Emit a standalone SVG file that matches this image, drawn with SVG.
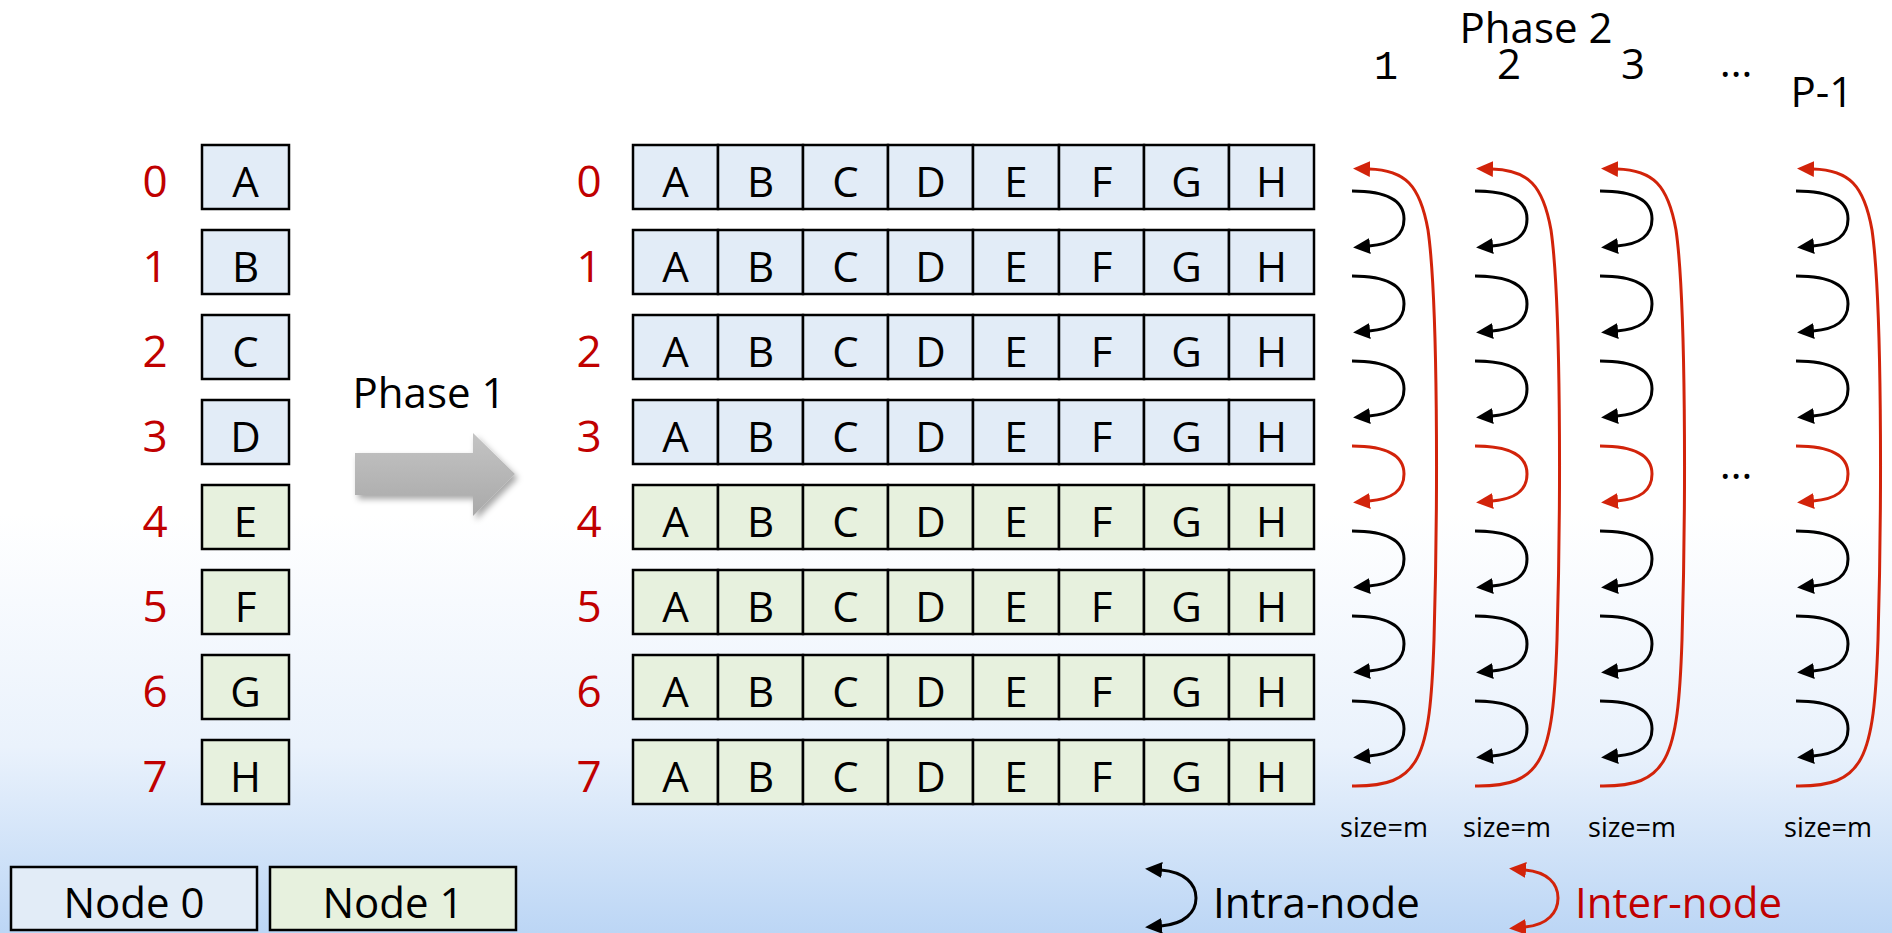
<svg xmlns="http://www.w3.org/2000/svg" width="1892" height="933" viewBox="0 0 1892 933">
<defs>
<linearGradient id="bg" x1="0" y1="0" x2="0" y2="1">
<stop offset="0" stop-color="#ffffff"/>
<stop offset="0.55" stop-color="#ffffff"/>
<stop offset="0.8" stop-color="#eaf2fc"/>
<stop offset="1" stop-color="#bcd6f5"/>
</linearGradient>
<linearGradient id="ga" x1="0" y1="0" x2="0" y2="1">
<stop offset="0" stop-color="#c4c4c4"/>
<stop offset="1" stop-color="#a9a9a9"/>
</linearGradient>
<filter id="sh" x="-20%" y="-30%" width="150%" height="170%">
<feDropShadow dx="3" dy="4" stdDeviation="3" flood-color="#000" flood-opacity="0.35"/>
</filter>
<marker id="ab" markerUnits="userSpaceOnUse" markerWidth="18" markerHeight="18" viewBox="0 -9 18 18" refX="1" refY="0" orient="auto-start-reverse">
<path d="M0,-8 L17,0 L0,8 z" fill="#000"/>
</marker>
<marker id="ar" markerUnits="userSpaceOnUse" markerWidth="18" markerHeight="18" viewBox="0 -9 18 18" refX="1" refY="0" orient="auto-start-reverse">
<path d="M0,-8 L17,0 L0,8 z" fill="#d2230a"/>
</marker>
</defs>
<style>
text{font-family:"Open Sans","Liberation Sans",sans-serif;fill:#000}
.t{font-size:42px;text-anchor:middle}
.n{font-size:44px;text-anchor:middle;fill:#c00000}
.s{font-size:27px;text-anchor:middle}
.bl{fill:#e2ecf7;stroke:#000;stroke-width:2.5}
.gr{fill:#e7f1de;stroke:#000;stroke-width:2.5}
.cb{fill:none;stroke:#000;stroke-width:3;marker-end:url(#ab)}
.cr{fill:none;stroke:#d2230a;stroke-width:3;marker-end:url(#ar)}
</style>
<rect x="0" y="0" width="1892" height="933" fill="url(#bg)"/>

<g id="left-ranks">
<text class="n" x="155" y="197">0</text>
<text class="n" x="155" y="282">1</text>
<text class="n" x="155" y="367">2</text>
<text class="n" x="155" y="452">3</text>
<text class="n" x="155" y="537">4</text>
<text class="n" x="155" y="622">5</text>
<text class="n" x="155" y="707">6</text>
<text class="n" x="155" y="792">7</text>
</g>
<g id="left-A"><rect class="bl" x="202" y="145" width="87" height="64"/><text class="t" x="245.5" y="197">A</text></g>
<g id="left-B"><rect class="bl" x="202" y="230" width="87" height="64"/><text class="t" x="245.5" y="282">B</text></g>
<g id="left-C"><rect class="bl" x="202" y="315" width="87" height="64"/><text class="t" x="245.5" y="367">C</text></g>
<g id="left-D"><rect class="bl" x="202" y="400" width="87" height="64"/><text class="t" x="245.5" y="452">D</text></g>
<g id="left-E"><rect class="gr" x="202" y="485" width="87" height="64"/><text class="t" x="245.5" y="537">E</text></g>
<g id="left-F"><rect class="gr" x="202" y="570" width="87" height="64"/><text class="t" x="245.5" y="622">F</text></g>
<g id="left-G"><rect class="gr" x="202" y="655" width="87" height="64"/><text class="t" x="245.5" y="707">G</text></g>
<g id="left-H"><rect class="gr" x="202" y="740" width="87" height="64"/><text class="t" x="245.5" y="792">H</text></g>

<g id="phase1">
<text x="429" y="408" style="font-size:42px;text-anchor:middle">Phase 1</text>
<polygon points="355,453 473,453 473,433 515,474 473,516 473,495 355,495" fill="url(#ga)" filter="url(#sh)"/>
</g>

<g id="grid-ranks">
<text class="n" x="589" y="197">0</text>
<text class="n" x="589" y="282">1</text>
<text class="n" x="589" y="367">2</text>
<text class="n" x="589" y="452">3</text>
<text class="n" x="589" y="537">4</text>
<text class="n" x="589" y="622">5</text>
<text class="n" x="589" y="707">6</text>
<text class="n" x="589" y="792">7</text>
</g>

<g id="row0">
<rect class="bl" x="633" y="145" width="85" height="64"/><rect class="bl" x="718" y="145" width="85" height="64"/><rect class="bl" x="803" y="145" width="85" height="64"/><rect class="bl" x="888" y="145" width="85" height="64"/><rect class="bl" x="973" y="145" width="86" height="64"/><rect class="bl" x="1059" y="145" width="85" height="64"/><rect class="bl" x="1144" y="145" width="85" height="64"/><rect class="bl" x="1229" y="145" width="85" height="64"/>
<text class="t" x="675.5" y="197">A</text><text class="t" x="760.5" y="197">B</text><text class="t" x="845.5" y="197">C</text><text class="t" x="930.5" y="197">D</text><text class="t" x="1016" y="197">E</text><text class="t" x="1101.5" y="197">F</text><text class="t" x="1186.5" y="197">G</text><text class="t" x="1271.5" y="197">H</text>
</g>
<g id="row1">
<rect class="bl" x="633" y="230" width="85" height="64"/><rect class="bl" x="718" y="230" width="85" height="64"/><rect class="bl" x="803" y="230" width="85" height="64"/><rect class="bl" x="888" y="230" width="85" height="64"/><rect class="bl" x="973" y="230" width="86" height="64"/><rect class="bl" x="1059" y="230" width="85" height="64"/><rect class="bl" x="1144" y="230" width="85" height="64"/><rect class="bl" x="1229" y="230" width="85" height="64"/>
<text class="t" x="675.5" y="282">A</text><text class="t" x="760.5" y="282">B</text><text class="t" x="845.5" y="282">C</text><text class="t" x="930.5" y="282">D</text><text class="t" x="1016" y="282">E</text><text class="t" x="1101.5" y="282">F</text><text class="t" x="1186.5" y="282">G</text><text class="t" x="1271.5" y="282">H</text>
</g>
<g id="row2">
<rect class="bl" x="633" y="315" width="85" height="64"/><rect class="bl" x="718" y="315" width="85" height="64"/><rect class="bl" x="803" y="315" width="85" height="64"/><rect class="bl" x="888" y="315" width="85" height="64"/><rect class="bl" x="973" y="315" width="86" height="64"/><rect class="bl" x="1059" y="315" width="85" height="64"/><rect class="bl" x="1144" y="315" width="85" height="64"/><rect class="bl" x="1229" y="315" width="85" height="64"/>
<text class="t" x="675.5" y="367">A</text><text class="t" x="760.5" y="367">B</text><text class="t" x="845.5" y="367">C</text><text class="t" x="930.5" y="367">D</text><text class="t" x="1016" y="367">E</text><text class="t" x="1101.5" y="367">F</text><text class="t" x="1186.5" y="367">G</text><text class="t" x="1271.5" y="367">H</text>
</g>
<g id="row3">
<rect class="bl" x="633" y="400" width="85" height="64"/><rect class="bl" x="718" y="400" width="85" height="64"/><rect class="bl" x="803" y="400" width="85" height="64"/><rect class="bl" x="888" y="400" width="85" height="64"/><rect class="bl" x="973" y="400" width="86" height="64"/><rect class="bl" x="1059" y="400" width="85" height="64"/><rect class="bl" x="1144" y="400" width="85" height="64"/><rect class="bl" x="1229" y="400" width="85" height="64"/>
<text class="t" x="675.5" y="452">A</text><text class="t" x="760.5" y="452">B</text><text class="t" x="845.5" y="452">C</text><text class="t" x="930.5" y="452">D</text><text class="t" x="1016" y="452">E</text><text class="t" x="1101.5" y="452">F</text><text class="t" x="1186.5" y="452">G</text><text class="t" x="1271.5" y="452">H</text>
</g>
<g id="row4">
<rect class="gr" x="633" y="485" width="85" height="64"/><rect class="gr" x="718" y="485" width="85" height="64"/><rect class="gr" x="803" y="485" width="85" height="64"/><rect class="gr" x="888" y="485" width="85" height="64"/><rect class="gr" x="973" y="485" width="86" height="64"/><rect class="gr" x="1059" y="485" width="85" height="64"/><rect class="gr" x="1144" y="485" width="85" height="64"/><rect class="gr" x="1229" y="485" width="85" height="64"/>
<text class="t" x="675.5" y="537">A</text><text class="t" x="760.5" y="537">B</text><text class="t" x="845.5" y="537">C</text><text class="t" x="930.5" y="537">D</text><text class="t" x="1016" y="537">E</text><text class="t" x="1101.5" y="537">F</text><text class="t" x="1186.5" y="537">G</text><text class="t" x="1271.5" y="537">H</text>
</g>
<g id="row5">
<rect class="gr" x="633" y="570" width="85" height="64"/><rect class="gr" x="718" y="570" width="85" height="64"/><rect class="gr" x="803" y="570" width="85" height="64"/><rect class="gr" x="888" y="570" width="85" height="64"/><rect class="gr" x="973" y="570" width="86" height="64"/><rect class="gr" x="1059" y="570" width="85" height="64"/><rect class="gr" x="1144" y="570" width="85" height="64"/><rect class="gr" x="1229" y="570" width="85" height="64"/>
<text class="t" x="675.5" y="622">A</text><text class="t" x="760.5" y="622">B</text><text class="t" x="845.5" y="622">C</text><text class="t" x="930.5" y="622">D</text><text class="t" x="1016" y="622">E</text><text class="t" x="1101.5" y="622">F</text><text class="t" x="1186.5" y="622">G</text><text class="t" x="1271.5" y="622">H</text>
</g>
<g id="row6">
<rect class="gr" x="633" y="655" width="85" height="64"/><rect class="gr" x="718" y="655" width="85" height="64"/><rect class="gr" x="803" y="655" width="85" height="64"/><rect class="gr" x="888" y="655" width="85" height="64"/><rect class="gr" x="973" y="655" width="86" height="64"/><rect class="gr" x="1059" y="655" width="85" height="64"/><rect class="gr" x="1144" y="655" width="85" height="64"/><rect class="gr" x="1229" y="655" width="85" height="64"/>
<text class="t" x="675.5" y="707">A</text><text class="t" x="760.5" y="707">B</text><text class="t" x="845.5" y="707">C</text><text class="t" x="930.5" y="707">D</text><text class="t" x="1016" y="707">E</text><text class="t" x="1101.5" y="707">F</text><text class="t" x="1186.5" y="707">G</text><text class="t" x="1271.5" y="707">H</text>
</g>
<g id="row7">
<rect class="gr" x="633" y="740" width="85" height="64"/><rect class="gr" x="718" y="740" width="85" height="64"/><rect class="gr" x="803" y="740" width="85" height="64"/><rect class="gr" x="888" y="740" width="85" height="64"/><rect class="gr" x="973" y="740" width="86" height="64"/><rect class="gr" x="1059" y="740" width="85" height="64"/><rect class="gr" x="1144" y="740" width="85" height="64"/><rect class="gr" x="1229" y="740" width="85" height="64"/>
<text class="t" x="675.5" y="792">A</text><text class="t" x="760.5" y="792">B</text><text class="t" x="845.5" y="792">C</text><text class="t" x="930.5" y="792">D</text><text class="t" x="1016" y="792">E</text><text class="t" x="1101.5" y="792">F</text><text class="t" x="1186.5" y="792">G</text><text class="t" x="1271.5" y="792">H</text>
</g>

<g id="phase2-labels">
<text x="1536" y="43" style="font-size:42px;text-anchor:middle">Phase 2</text>
<text x="1386" y="79" style="font-family:'Liberation Mono',monospace;font-size:40px;text-anchor:middle">1</text>
<text class="t" x="1509" y="79">2</text>
<text class="t" x="1633" y="79">3</text>
<text class="t" x="1736" y="77">…</text>
<text class="t" x="1822" y="107">P-1</text>
<text class="t" x="1736" y="479">…</text>
</g>

<g id="connectors">
<g id="col1" transform="translate(1352,0)">
<path class="cr" d="M0,786 C68,787 78,760 82,640 C86,500 86,300 76,230 C68,185 53,170 17,169"/>
<path class="cb" transform="translate(0,191)" d="M0,0 C42,0 52,14 52,28 C52,45 40,53 17,55"/>
<path class="cb" transform="translate(0,276)" d="M0,0 C42,0 52,14 52,28 C52,45 40,53 17,55"/>
<path class="cb" transform="translate(0,361)" d="M0,0 C42,0 52,14 52,28 C52,45 40,53 17,55"/>
<path class="cr" transform="translate(0,446)" d="M0,0 C42,0 52,14 52,28 C52,45 40,53 17,55"/>
<path class="cb" transform="translate(0,531)" d="M0,0 C42,0 52,14 52,28 C52,45 40,53 17,55"/>
<path class="cb" transform="translate(0,616)" d="M0,0 C42,0 52,14 52,28 C52,45 40,53 17,55"/>
<path class="cb" transform="translate(0,701)" d="M0,0 C42,0 52,14 52,28 C52,45 40,53 17,55"/>
</g>
<g id="col2" transform="translate(1475,0)">
<path class="cr" d="M0,786 C68,787 78,760 82,640 C86,500 86,300 76,230 C68,185 53,170 17,169"/>
<path class="cb" transform="translate(0,191)" d="M0,0 C42,0 52,14 52,28 C52,45 40,53 17,55"/>
<path class="cb" transform="translate(0,276)" d="M0,0 C42,0 52,14 52,28 C52,45 40,53 17,55"/>
<path class="cb" transform="translate(0,361)" d="M0,0 C42,0 52,14 52,28 C52,45 40,53 17,55"/>
<path class="cr" transform="translate(0,446)" d="M0,0 C42,0 52,14 52,28 C52,45 40,53 17,55"/>
<path class="cb" transform="translate(0,531)" d="M0,0 C42,0 52,14 52,28 C52,45 40,53 17,55"/>
<path class="cb" transform="translate(0,616)" d="M0,0 C42,0 52,14 52,28 C52,45 40,53 17,55"/>
<path class="cb" transform="translate(0,701)" d="M0,0 C42,0 52,14 52,28 C52,45 40,53 17,55"/>
</g>
<g id="col3" transform="translate(1600,0)">
<path class="cr" d="M0,786 C68,787 78,760 82,640 C86,500 86,300 76,230 C68,185 53,170 17,169"/>
<path class="cb" transform="translate(0,191)" d="M0,0 C42,0 52,14 52,28 C52,45 40,53 17,55"/>
<path class="cb" transform="translate(0,276)" d="M0,0 C42,0 52,14 52,28 C52,45 40,53 17,55"/>
<path class="cb" transform="translate(0,361)" d="M0,0 C42,0 52,14 52,28 C52,45 40,53 17,55"/>
<path class="cr" transform="translate(0,446)" d="M0,0 C42,0 52,14 52,28 C52,45 40,53 17,55"/>
<path class="cb" transform="translate(0,531)" d="M0,0 C42,0 52,14 52,28 C52,45 40,53 17,55"/>
<path class="cb" transform="translate(0,616)" d="M0,0 C42,0 52,14 52,28 C52,45 40,53 17,55"/>
<path class="cb" transform="translate(0,701)" d="M0,0 C42,0 52,14 52,28 C52,45 40,53 17,55"/>
</g>
<g id="colP" transform="translate(1796,0)">
<path class="cr" d="M0,786 C68,787 78,760 82,640 C86,500 86,300 76,230 C68,185 53,170 17,169"/>
<path class="cb" transform="translate(0,191)" d="M0,0 C42,0 52,14 52,28 C52,45 40,53 17,55"/>
<path class="cb" transform="translate(0,276)" d="M0,0 C42,0 52,14 52,28 C52,45 40,53 17,55"/>
<path class="cb" transform="translate(0,361)" d="M0,0 C42,0 52,14 52,28 C52,45 40,53 17,55"/>
<path class="cr" transform="translate(0,446)" d="M0,0 C42,0 52,14 52,28 C52,45 40,53 17,55"/>
<path class="cb" transform="translate(0,531)" d="M0,0 C42,0 52,14 52,28 C52,45 40,53 17,55"/>
<path class="cb" transform="translate(0,616)" d="M0,0 C42,0 52,14 52,28 C52,45 40,53 17,55"/>
<path class="cb" transform="translate(0,701)" d="M0,0 C42,0 52,14 52,28 C52,45 40,53 17,55"/>
</g>
</g>

<g id="size-labels">
<text class="s" x="1384" y="837">size=m</text>
<text class="s" x="1507" y="837">size=m</text>
<text class="s" x="1632" y="837">size=m</text>
<text class="s" x="1828" y="837">size=m</text>
</g>

<g id="legend-node0"><rect class="bl" x="11" y="867" width="246" height="63"/><text class="t" x="134" y="918">Node 0</text></g>
<g id="legend-node1"><rect class="gr" x="270" y="867" width="246" height="63"/><text class="t" x="393" y="918">Node 1</text></g>

<g id="legend-intra">
<path d="M1161,870 C1185,872 1196,884 1196,898 C1196,912 1185,924 1161,926" fill="none" stroke="#000" stroke-width="3" marker-start="url(#ab)" marker-end="url(#ab)"/>
<text x="1213" y="918" style="font-size:42px">Intra-node</text>
</g>
<g id="legend-inter">
<path d="M1525,870 C1548,872 1558,884 1558,898 C1558,912 1548,925 1525,927" fill="none" stroke="#d2230a" stroke-width="3" marker-start="url(#ar)" marker-end="url(#ar)"/>
<text x="1575" y="918" style="font-size:42px;fill:#c00000">Inter-node</text>
</g>
</svg>
